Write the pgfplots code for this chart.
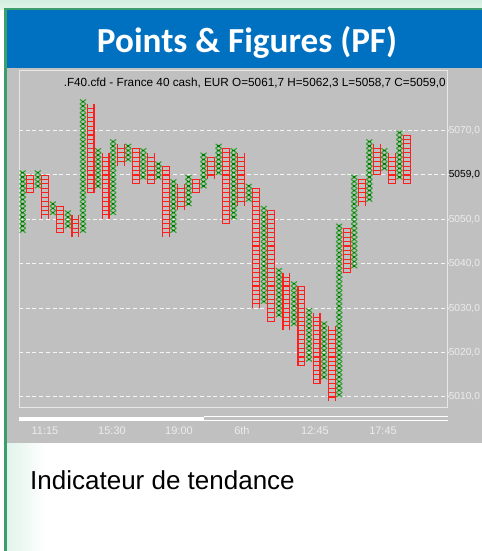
\documentclass[border=0pt]{standalone}
\usepackage{pgfplots}
\pgfplotsset{compat=1.18}
\usepackage{fontspec}
\setmainfont{Liberation Sans}
\newfontfamily\titlefont{Carlito}
\usetikzlibrary{decorations.markings}
\definecolor{bggray}{RGB}{192,192,192}
\definecolor{cardblue}{RGB}{0,112,192}
\definecolor{bordergreen}{RGB}{60,158,110}
\definecolor{mint}{RGB}{212,238,225}
\definecolor{mintlight}{RGB}{225,244,235}
\definecolor{framegray}{RGB}{232,232,232}
\definecolor{gridwhite}{RGB}{245,245,245}
\definecolor{ticklight}{RGB}{236,236,236}
\definecolor{ored}{RGB}{255,30,30}
\definecolor{xgreen}{RGB}{50,160,50}
\definecolor{xdark}{RGB}{0,120,0}
\newcommand{\Xc}[3]{\addplot[xcol] coordinates {(#1,#2) (#1,#3)};}
\newcommand{\Oc}[3]{\addplot[ocol] coordinates {(#1,#2) (#1,#3)};}
\begin{document}
\begin{tikzpicture}[x=1bp,y=1bp]
\useasboundingbox (0,0) rectangle (482,551);
\fill[white] (0,0) rectangle (482,551);
\shade[top color=mint, bottom color=mintlight] (0,541) rectangle (482,551);
\shade[left color=mintlight, right color=white] (7,0) rectangle (45,108);
\fill[cardblue] (7,483) rectangle (482,541);
\fill[bggray] (7,108) rectangle (482,483);
\fill[bordergreen] (3.5,0) rectangle (7,542.5);
\fill[bordergreen] (3.5,541) rectangle (482,542.5);
\node[anchor=base, inner sep=0pt, text=white] at (247,498.3)
  {\resizebox{300bp}{!}{\titlefont\bfseries\fontsize{34bp}{36bp}\selectfont Points \& Figures (PF)}};
\node[anchor=base east, inner sep=0pt] at (446,464.5)
  {\resizebox{382bp}{!}{\fontsize{10bp}{12bp}\selectfont .F40.cfd - France 40 cash, EUR O=5061,7 H=5062,3 L=5058,7 C=5059,0}};
\fill[white] (19,130.3) rectangle (204,134.3);
\draw[white, line width=0.8bp] (204,135)--(448,135) (204,130.5)--(448,130.5);
\node[anchor=base west, inner sep=0pt] at (30,61)
  {\fontsize{26bp}{30bp}\selectfont Indicateur de tendance};
\begin{axis}[
  at={(19bp,143bp)}, anchor=south west,
  x=7.535bp, y=4.44bp,
  xmin=0.51, xmax=57.44, ymin=5007.52, ymax=5083.42,
  axis line style={framegray, line width=1bp},
  ytick={5010,5020,5030,5040,5050,5060,5070},
  yticklabels={{5010,0},{5020,0},{5030,0},{5040,0},{5050,0},{\color{black}5059,0},{5070,0}},
  yticklabel pos=right,
  yticklabel style={font=\fontsize{10.2bp}{12bp}\selectfont, text=ticklight, anchor=west, inner sep=0.6bp},
  xtick={3.96,12.85,21.74,30.10,39.79,48.82},
  xticklabels={11:15,15:30,19:00,6th,12:45,17:45},
  xticklabel style={font=\fontsize{11bp}{13bp}\selectfont, text=ticklight, anchor=center, yshift=-23bp},
  major tick length=0pt,
  ymajorgrids,
  grid style={gridwhite, line width=1bp, dash pattern=on 4bp off 2.7bp},
  xcol/.style={draw=none, postaction={decorate},
    decoration={markings, mark=between positions 2.22bp and -2bp step 4.44bp with {
      \draw[xgreen, line width=1.1bp] (-2.22bp,-3bp)--(2.22bp,3bp) (-2.22bp,3bp)--(2.22bp,-3bp);
      \fill[xdark] (-0.7bp,-1.2bp) rectangle (0.7bp,1.2bp);}}},
  ocol/.style={draw=ored, line width=8bp, line cap=butt,
    postaction={draw=bggray, line width=5.8bp, line cap=butt, dash pattern=on 0pt off 0.55bp on 3.34bp off 0.55bp}},
]
\Xc{1}{5047}{5061}
\Xc{3}{5057}{5061}
\Xc{5}{5051}{5054}
\Xc{7}{5048}{5052}
\Xc{9}{5047}{5077}
\Xc{11}{5057}{5066}
\Xc{13}{5051}{5068}
\Xc{15}{5063}{5067}
\Xc{17}{5059}{5066}
\Xc{19}{5059}{5063}
\Xc{21}{5047}{5059}
\Xc{23}{5053}{5060}
\Xc{25}{5057}{5065}
\Xc{27}{5060}{5067}
\Xc{29}{5050}{5066}
\Xc{31}{5054}{5058}
\Xc{33}{5031}{5053}
\Xc{35}{5028}{5039}
\Xc{37}{5026}{5036}
\Xc{39}{5018}{5030}
\Xc{41}{5014}{5027}
\Xc{43}{5010}{5049}
\Xc{45}{5039}{5060}
\Xc{47}{5054}{5068}
\Xc{49}{5061}{5066}
\Xc{51}{5059}{5070}
\Oc{2}{5056}{5060}
\Oc{4}{5050}{5060}
\Oc{6}{5047}{5053}
\Oc{8}{5046}{5051}
\Oc{10}{5056}{5076}
\Oc{12}{5050}{5065}
\Oc{14}{5062}{5067}
\Oc{16}{5058}{5066}
\Oc{18}{5058}{5065}
\Oc{20}{5046}{5062}
\Oc{22}{5052}{5058}
\Oc{24}{5056}{5059}
\Oc{26}{5059}{5064}
\Oc{28}{5049}{5066}
\Oc{30}{5053}{5065}
\Oc{32}{5030}{5057}
\Oc{34}{5027}{5052}
\Oc{36}{5025}{5038}
\Oc{38}{5017}{5035}
\Oc{40}{5013}{5029}
\Oc{42}{5009}{5026}
\Oc{44}{5038}{5048}
\Oc{46}{5053}{5059}
\Oc{48}{5060}{5067}
\Oc{50}{5058}{5065}
\Oc{52}{5058}{5069}
\end{axis}
\end{tikzpicture}
\end{document}
